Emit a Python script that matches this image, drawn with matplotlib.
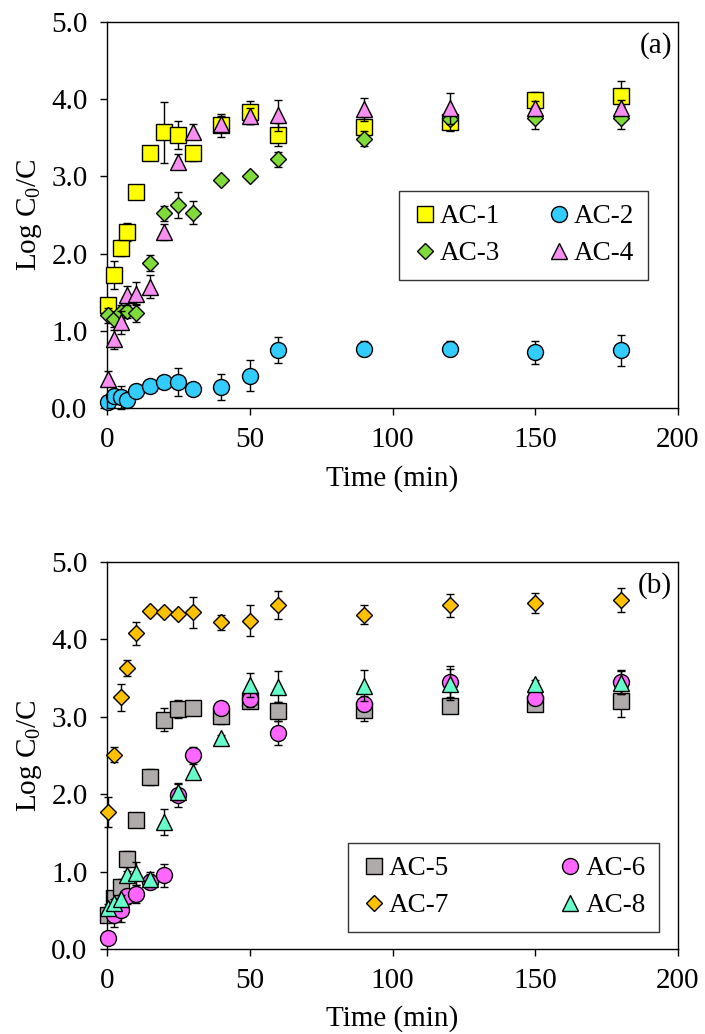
import matplotlib
matplotlib.use("Agg")
import matplotlib.pyplot as plt
from matplotlib import font_manager as fm

# choose a Times-like serif font that is actually installed
available = {f.name for f in fm.fontManager.ttflist}
serif_name = 'STIXGeneral'
for cand in ['Liberation Serif', 'Times New Roman', 'Nimbus Roman', 'STIXGeneral']:
    if cand in available:
        serif_name = cand
        break

plt.rcParams['font.family'] = [serif_name, 'STIXGeneral', 'DejaVu Serif']
plt.rcParams['mathtext.fontset'] = 'custom'
plt.rcParams['mathtext.rm'] = serif_name

# ---------------- data ----------------
time = [0.5, 2.5, 5, 7, 10, 15, 20, 25, 30, 40, 50, 60, 90, 120, 150, 180]

ac1 = [1.33, 1.72, 2.07, 2.28, 2.80, 3.30, 3.57, 3.54, 3.30, 3.66, 3.83, 3.54, 3.64, 3.70, 3.99, 4.04]
ac1_err = [0.10, 0.18, 0.10, 0.12, 0.05, 0.05, 0.40, 0.18, 0.10, 0.15, 0.15, 0.15, 0.10, 0.10, 0.10, 0.20]
ac2 = [0.08, 0.15, 0.14, 0.11, 0.22, 0.29, 0.34, 0.34, 0.25, 0.27, 0.42, 0.75, 0.77, 0.77, 0.72, 0.75]
ac2_err = [0.05, 0.10, 0.15, 0.05, 0.05, 0.05, 0.05, 0.18, 0.08, 0.17, 0.20, 0.17, 0.10, 0.10, 0.15, 0.20]
ac3 = [1.20, 1.15, 1.24, 1.26, 1.23, 1.88, 2.52, 2.63, 2.53, 2.95, 3.01, 3.22, 3.49, 3.74, 3.76, 3.76]
ac3_err = [0.10, 0.10, 0.10, 0.10, 0.12, 0.10, 0.10, 0.17, 0.15, 0.05, 0.05, 0.10, 0.10, 0.15, 0.15, 0.15]
ac4 = [0.38, 0.89, 1.11, 1.46, 1.48, 1.57, 2.28, 3.19, 3.58, 3.68, 3.78, 3.79, 3.87, 3.88, 3.88, 3.89]
ac4_err = [0.10, 0.12, 0.15, 0.12, 0.15, 0.15, 0.10, 0.10, 0.10, 0.10, 0.10, 0.20, 0.15, 0.20, 0.10, 0.10]

ac5 = [0.44, 0.66, 0.80, 1.16, 1.67, 2.22, 2.96, 3.10, 3.12, 3.01, 3.21, 3.07, 3.09, 3.14, 3.17, 3.20]
ac5_err = [0.05, 0.05, 0.10, 0.10, 0.05, 0.10, 0.15, 0.12, 0.05, 0.10, 0.10, 0.12, 0.15, 0.05, 0.10, 0.20]
ac6 = [0.14, 0.44, 0.50, 0.68, 0.71, 0.87, 0.95, 1.99, 2.51, 3.11, 3.23, 2.79, 3.17, 3.45, 3.24, 3.45]
ac6_err = [0.05, 0.15, 0.15, 0.10, 0.12, 0.10, 0.15, 0.15, 0.10, 0.05, 0.10, 0.15, 0.10, 0.20, 0.05, 0.15]
ac7 = [1.77, 2.51, 3.25, 3.63, 4.08, 4.37, 4.35, 4.33, 4.35, 4.22, 4.24, 4.44, 4.32, 4.44, 4.47, 4.51]
ac7_err = [0.20, 0.10, 0.17, 0.10, 0.15, 0.05, 0.05, 0.05, 0.20, 0.10, 0.20, 0.18, 0.12, 0.15, 0.13, 0.15]
ac8 = [0.53, 0.59, 0.65, 0.96, 0.98, 0.90, 1.64, 2.03, 2.29, 2.72, 3.41, 3.39, 3.40, 3.42, 3.42, 3.44]
ac8_err = [0.05, 0.05, 0.05, 0.05, 0.15, 0.10, 0.17, 0.10, 0.10, 0.05, 0.15, 0.20, 0.20, 0.20, 0.05, 0.15]

labels_a = ['AC-1', 'AC-2', 'AC-3', 'AC-4']
labels_b = ['AC-5', 'AC-6', 'AC-7', 'AC-8']

yticks = [0.0, 1.0, 2.0, 3.0, 4.0, 5.0]
xticks = [0, 50, 100, 150, 200]

# ---------------- figure ----------------
fig = plt.figure(figsize=(7.05, 10.34), dpi=100)
ax_a = fig.add_axes([0.1518, 0.6054, 0.8099, 0.3733])
ax_b = fig.add_axes([0.1518, 0.0822, 0.8099, 0.3743])

FS = 21
FS_LEG = 19.5
MS = 11.5      # squares, circles, triangles
MS_D = 8.0     # diamonds


def draw_series(ax, y, err, marker, color, ms, label, z):
    eb = ax.errorbar(time, y, yerr=err, fmt='none', ecolor='black', elinewidth=1.0,
                     capsize=3, capthick=1.0, zorder=z)
    for art in eb.lines[1] + eb.lines[2]:
        art.set_clip_on(False)
    ax.plot(time, y, linestyle='none', marker=marker, markersize=ms,
            markerfacecolor=color, markeredgecolor='black', markeredgewidth=1.0,
            label=label, zorder=z + 0.5, clip_on=False)


def style_axes(ax, tag):
    ax.set_xlim(0, 200)
    ax.set_ylim(0, 5)
    ax.set_xticks(xticks)
    ax.set_xticklabels([str(v) for v in xticks])
    ax.set_yticks(yticks)
    ax.set_yticklabels(['%.1f' % v for v in yticks])
    ax.tick_params(axis='both', direction='out', length=5, width=1.0,
                   labelsize=FS, top=False, right=False, pad=9)
    for s in ax.spines.values():
        s.set_linewidth(1.0)
    ax.set_xlabel('Time (min)', fontsize=FS, labelpad=8)
    ax.set_ylabel(r'Log C$\mathregular{_0}$/C', fontsize=FS, labelpad=5)
    ax.text(0.99, 0.975, tag, transform=ax.transAxes, ha='right', va='top',
            fontsize=FS)


def add_legend(ax, labels, bbox):
    h, l = ax.get_legend_handles_labels()
    # column-wise filling: reorder so rows read (1,2),(3,4)
    order = [l.index(labels[i]) for i in (0, 2, 1, 3)]
    leg = ax.legend([h[i] for i in order], [l[i] for i in order], ncol=2,
                    loc='lower left', bbox_to_anchor=bbox, mode='expand',
                    fontsize=FS_LEG, frameon=True, fancybox=False,
                    edgecolor='black', markerscale=1.0, handlelength=0.9,
                    handletextpad=0.1, columnspacing=0.8, borderaxespad=0,
                    labelspacing=0.45, borderpad=0.5)
    leg.get_frame().set_linewidth(1.0)
    leg.set_zorder(10)


# panel (a)
draw_series(ax_a, ac2, ac2_err, 'o', '#33CCFF', MS, labels_a[1], 2)
draw_series(ax_a, ac1, ac1_err, 's', '#FFFF00', MS, labels_a[0], 3)
draw_series(ax_a, ac3, ac3_err, 'D', '#7FDB3A', MS_D, labels_a[2], 4)
draw_series(ax_a, ac4, ac4_err, '^', '#F78FF0', MS, labels_a[3], 5)
style_axes(ax_a, '(a)')
add_legend(ax_a, labels_a, (0.511, 0.332, 0.436, 0.233))

# panel (b)
draw_series(ax_b, ac5, ac5_err, 's', '#B0ABAB', MS, labels_b[0], 2)
draw_series(ax_b, ac6, ac6_err, 'o', '#FF66FF', MS, labels_b[1], 3)
draw_series(ax_b, ac7, ac7_err, 'D', '#FFC000', MS_D, labels_b[2], 4)
draw_series(ax_b, ac8, ac8_err, '^', '#66FFCC', MS, labels_b[3], 5)
style_axes(ax_b, '(b)')
add_legend(ax_b, labels_b, (0.422, 0.044, 0.545, 0.222))

fig.savefig('out.png', dpi=100, facecolor='white')
